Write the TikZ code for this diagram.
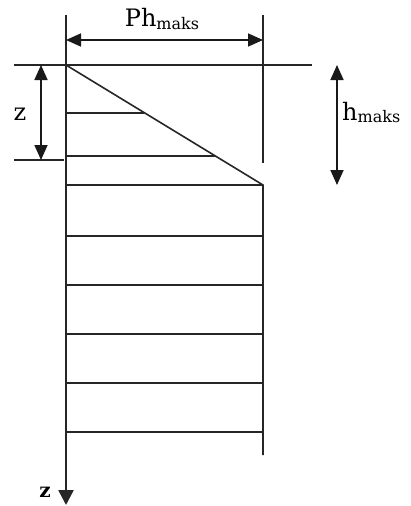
\documentclass[tikz,border=0pt]{standalone}
\usepackage{fontspec}
\setmainfont{DejaVu Serif}
\usetikzlibrary{arrows.meta}
\newcommand{\subtxt}[1]{\raisebox{-2pt}{\fontsize{16}{16}\selectfont #1}}
\tikzset{
  thin line/.style={line width=1.6pt, black!85},
  thick line/.style={line width=2.6pt, black!85},
  dimarrow/.style={line width=1.7pt, black!90, {Triangle[length=15pt,width=13pt]}-{Triangle[length=15pt,width=13pt]}},
  lbl/.style={inner sep=0pt, font=\fontsize{24}{24}\selectfont}
}
\begin{document}
\begin{tikzpicture}[x=1pt,y=-1pt]
\useasboundingbox (0,0) rectangle (411,506);
% key points
\coordinate (O) at (66,65);
\coordinate (Otop) at (66,15);
\coordinate (Oend) at (66,505);
\coordinate (TL) at (14,65);
\coordinate (TR) at (312,65);
\coordinate (Rtop) at (263,15);
\coordinate (Rext) at (263,163);
\coordinate (C) at (263,185);
\coordinate (Rbot) at (263,455);
\coordinate (ZL) at (14,160);
\coordinate (ZR) at (64,160);
\coordinate (Za) at (41,65);
\coordinate (Zb) at (41,160);
\coordinate (Pa) at (66,40);
\coordinate (Pb) at (263,40);
\coordinate (Ha) at (337,65);
\coordinate (Hb) at (337,185);
% hatch points
\coordinate (h1a) at (66,113); \coordinate (h1b) at (144,113);
\coordinate (h2a) at (66,156); \coordinate (h2b) at (215,156);
\coordinate (h3a) at (66,185);
\coordinate (h4a) at (66,236); \coordinate (h4b) at (263,236);
\coordinate (h5a) at (66,285); \coordinate (h5b) at (263,285);
\coordinate (h6a) at (66,334); \coordinate (h6b) at (263,334);
\coordinate (h7a) at (66,383); \coordinate (h7b) at (263,383);
\coordinate (h8a) at (66,432); \coordinate (h8b) at (263,432);

% extension lines
\draw[thin line] (Otop) -- (O);
\draw[thin line] (Rtop) -- (Rext);
\draw[thin line] (ZL) -- (ZR);
% top surface
\draw[thick line] (TL) -- (TR);
% axis
\draw[thick line, -{Triangle[length=15pt,width=15pt]}] (O) -- (Oend);
% pressure diagram
\draw[thin line] (O) -- (C) -- (Rbot);
\foreach \i in {1,2} \draw[thin line] (h\i a) -- (h\i b);
\draw[thin line] (h3a) -- (C);
\foreach \i in {4,...,8} \draw[thin line] (h\i a) -- (h\i b);
% dimension arrows
\draw[dimarrow] (Pa) -- (Pb);
\draw[dimarrow] (Za) -- (Zb);
\draw[dimarrow] (Ha) -- (Hb);
% labels
\node[lbl, anchor=base] (lp) at (162,27) {Ph\subtxt{maks}};
\node[lbl, anchor=base] (lz) at (20,120) {z};
\node[lbl, anchor=base west] (lh) at (342,120) {h\subtxt{maks}};
\node[inner sep=0pt, anchor=base, font=\fontsize{20}{20}\selectfont\bfseries] (lz2) at (45,497) {z};
\end{tikzpicture}
\end{document}
